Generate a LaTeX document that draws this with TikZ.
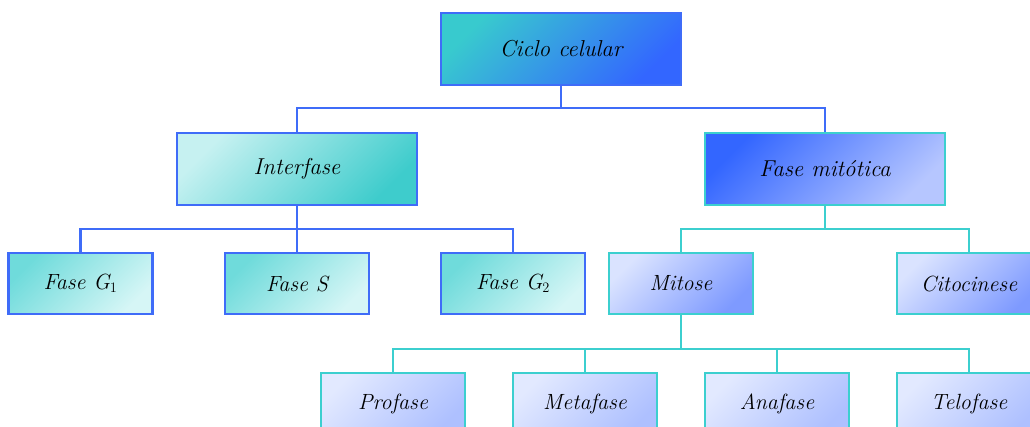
\documentclass[tikz,border=0pt]{standalone}
\usetikzlibrary{calc}
\definecolor{lblue}{HTML}{3F6CF8}
\definecolor{lteal}{HTML}{3CCFCF}
\definecolor{c1a}{HTML}{38CACE}\definecolor{c1b}{HTML}{3366FF}
\definecolor{c2a}{HTML}{C6F1F1}\definecolor{c2b}{HTML}{3ECCCC}
\definecolor{c3a}{HTML}{3366FF}\definecolor{c3b}{HTML}{B6C6FF}
\definecolor{c4a}{HTML}{6FDBDB}\definecolor{c4b}{HTML}{D6F6F6}
\definecolor{c5a}{HTML}{DAE3FF}\definecolor{c5b}{HTML}{7E9AFF}
\definecolor{c6a}{HTML}{E2E9FF}\definecolor{c6b}{HTML}{AEC0FF}
\tikzset{
  box/.style={draw, line width=2.4pt, rectangle, inner sep=0pt, text=black},
  bigbox/.style={box, minimum width=240pt, minimum height=72pt, font=\fontsize{23}{27}\selectfont\itshape},
  smallbox/.style={box, minimum width=144pt, minimum height=61pt, font=\fontsize{22}{26}\selectfont\itshape},
  grad/.style 2 args={top color=#1, bottom color=#2, shading angle=45},
  bline/.style={draw=lblue, line width=2.6pt},
  tline/.style={draw=lteal, line width=2.6pt},
}
\begin{document}
\begin{tikzpicture}[x=1pt,y=-1pt]
\useasboundingbox (0,0) rectangle (1030,427);
\begin{scope}
\clip (0,0) rectangle (1030,427);
% level 0
\node[bigbox, draw=lblue, grad={c1a}{c1b}] (ciclo) at (561,49) {Ciclo celular};
% level 1
\node[bigbox, draw=lblue, grad={c2a}{c2b}] (inter) at (297,169) {Interfase};
\node[bigbox, draw=lteal, grad={c3a}{c3b}] (mito) at (825,169) {Fase mitótica};
% level 2
\node[smallbox, draw=lblue, grad={c4a}{c4b}] (g1) at (80.5,283.5) {Fase G$_1$};
\node[smallbox, draw=lblue, grad={c4a}{c4b}] (s) at (297,283.5) {Fase S};
\node[smallbox, draw=lblue, grad={c4a}{c4b}] (g2) at (513,283.5) {Fase G$_2$};
\node[smallbox, draw=lteal, grad={c5a}{c5b}] (mitose) at (681,283.5) {Mitose};
\node[smallbox, draw=lteal, grad={c5a}{c5b}] (cito) at (969,283.5) {Citocinese};
% level 3
\node[smallbox, draw=lteal, grad={c6a}{c6b}] (pro) at (393,403.5) {Profase};
\node[smallbox, draw=lteal, grad={c6a}{c6b}] (meta) at (585,403.5) {Metafase};
\node[smallbox, draw=lteal, grad={c6a}{c6b}] (ana) at (777,403.5) {Anafase};
\node[smallbox, draw=lteal, grad={c6a}{c6b}] (telo) at (969,403.5) {Telofase};
\end{scope}
% connectors
\coordinate (j0) at (561,108);
\draw[bline] (ciclo.south) -- (j0);
\draw[bline] (j0) -| (inter.north);
\draw[bline] (j0) -| (mito.north);
\coordinate (j1) at (297,229);
\draw[bline] (inter.south) -- (j1);
\draw[bline] (j1) -| (g1.north);
\draw[bline] (j1) -- (s.north);
\draw[bline] (j1) -| (g2.north);
\coordinate (j2) at (825,229);
\draw[tline] (mito.south) -- (j2);
\draw[tline] (j2) -| (mitose.north);
\draw[tline] (j2) -| (cito.north);
\coordinate (j3) at (681,349);
\draw[tline] (mitose.south) -- (j3);
\draw[tline] (j3) -| (pro.north);
\draw[tline] (j3) -| (meta.north);
\draw[tline] (j3) -| (ana.north);
\draw[tline] (j3) -| (telo.north);
\end{tikzpicture}
\end{document}
